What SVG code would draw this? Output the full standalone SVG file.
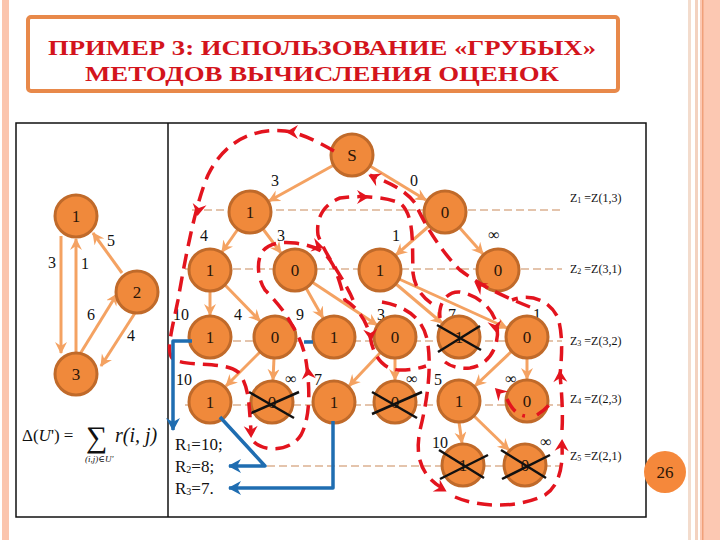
<svg xmlns="http://www.w3.org/2000/svg" width="720" height="540" viewBox="0 0 720 540">
<style>
text{font-family:"Liberation Serif","DejaVu Serif","Times New Roman",serif}
.nd{fill:#f0893b;stroke:#c06a2a;stroke-width:3}
.nt{font-size:17px;fill:#2a1508;text-anchor:middle}
.lb{font-size:16px;fill:#111;text-anchor:middle}
.zl{font-size:12px;fill:#111}
.ed{stroke:#f4a262;stroke-width:3;fill:none;marker-end:url(#oa)}
.lv{stroke:#c98a5a;stroke-width:1.2;stroke-dasharray:8 4;fill:none}
.rd{stroke:#e3141e;stroke-width:3.5;stroke-dasharray:15 8;fill:none}
.bl{stroke:#1f6db1;stroke-width:3.5;fill:none;stroke-linejoin:round}
.x{stroke:#111;stroke-width:2.5}
.ra{fill:#e3141e}
</style>
<defs>
<marker id="oa" markerUnits="userSpaceOnUse" markerWidth="14" markerHeight="14" refX="11" refY="6" orient="auto">
<path d="M0,0 L12,6 L0,12 L4,6 z" fill="#f4a262"/>
</marker>
<marker id="ba" markerUnits="userSpaceOnUse" markerWidth="16" markerHeight="16" refX="12" refY="7" orient="auto">
<path d="M0,0 L13,7 L0,14 L4,7 z" fill="#1f6db1"/>
</marker>
<path id="rh" d="M-9,-7 L3,0 L-9,7 L-5,0 z"/>
</defs>
<!-- background -->
<rect x="0" y="0" width="720" height="540" fill="#ffffff"/>
<rect x="2" y="0" width="7" height="540" fill="#fbc5ae"/>
<rect x="688" y="0" width="3" height="540" fill="#f3dccd"/>
<rect x="695" y="0" width="3" height="540" fill="#f3d2c0"/>
<rect x="700" y="0" width="20" height="540" fill="#fcc8b2"/>
<rect x="702" y="0" width="1.5" height="540" fill="#f0a07a"/>
<!-- title -->
<g id="title">
<rect x="28" y="17" width="590" height="74" rx="3" fill="#ffffff" stroke="#e8894a" stroke-width="4"/>
<text x="322" y="55" font-size="21" font-weight="bold" fill="#d3141c" text-anchor="middle" textLength="548" lengthAdjust="spacingAndGlyphs">ПРИМЕР 3: ИСПОЛЬЗОВАНИЕ «ГРУБЫХ»</text>
<text x="322" y="81" font-size="21" font-weight="bold" fill="#d3141c" text-anchor="middle" textLength="474" lengthAdjust="spacingAndGlyphs">МЕТОДОВ ВЫЧИСЛЕНИЯ ОЦЕНОК</text>
</g>
<!-- table -->
<g id="table" fill="none" stroke="#111" stroke-width="1.5">
<rect x="16" y="123" width="630" height="394"/>
<line x1="168" y1="123" x2="168" y2="517"/>
</g>
<!-- level lines -->
<g id="levels">
<line class="lv" x1="192" y1="210" x2="562" y2="210"/>
<line class="lv" x1="185" y1="269" x2="562" y2="269"/>
<line class="lv" x1="185" y1="341" x2="562" y2="341"/>
<line class="lv" x1="185" y1="405" x2="562" y2="405"/>
<line class="lv" x1="267" y1="466" x2="562" y2="466"/>
<text class="zl" x="570" y="202">Z<tspan font-size="8" dy="1">1</tspan><tspan dy="-1"> =Z(1,3)</tspan></text>
<text class="zl" x="570" y="273">Z<tspan font-size="8" dy="1">2</tspan><tspan dy="-1"> =Z(3,1)</tspan></text>
<text class="zl" x="570" y="345">Z<tspan font-size="8" dy="1">3</tspan><tspan dy="-1"> =Z(3,2)</tspan></text>
<text class="zl" x="570" y="403">Z<tspan font-size="8" dy="1">4</tspan><tspan dy="-1"> =Z(2,3)</tspan></text>
<text class="zl" x="570" y="460">Z<tspan font-size="8" dy="1">5</tspan><tspan dy="-1"> =Z(2,1)</tspan></text>
</g>
<!-- left graph connectors -->
<g id="g-connectors">
<line class="ed" x1="61" y1="236" x2="61" y2="353"/>
<line class="ed" x1="76" y1="353" x2="76" y2="239"/>
<line class="ed" x1="122" y1="273" x2="93" y2="233"/>
<line class="ed" x1="80" y1="354" x2="117" y2="294"/>
<line class="ed" x1="135" y1="313" x2="101" y2="366"/>
<text class="lb" x="52" y="268" font-size="17">3</text>
<text class="lb" x="85" y="269" font-size="17">1</text>
<text class="lb" x="111" y="246" font-size="17">5</text>
<text class="lb" x="91" y="320" font-size="17">6</text>
<text class="lb" x="131" y="341" font-size="17">4</text>
</g>
<g id="g1"><circle class="nd" cx="76" cy="216" r="21"/><text class="nt" x="76" y="222">1</text></g>
<g id="g2"><circle class="nd" cx="137" cy="292" r="21"/><text class="nt" x="137" y="298">2</text></g>
<g id="g3"><circle class="nd" cx="76" cy="374" r="21"/><text class="nt" x="76" y="380">3</text></g>
<!-- formula -->
<g id="formula" fill="#111">
<text x="22" y="441" font-size="17">Δ(<tspan font-style="italic">U</tspan>') =</text>
<text x="86" y="447" font-size="30">∑</text>
<text x="115" y="442" font-size="20" font-style="italic">r(i, j)</text>
<text x="85" y="462" font-size="9" font-style="italic">(i,j)∈U'</text>
</g>
<!-- tree connectors -->
<g id="connectors">
<line class="ed" x1="334" y1="165" x2="269" y2="201"/>
<line class="ed" x1="370" y1="166" x2="426" y2="200"/>
<line class="ed" x1="238" y1="229" x2="222" y2="252"/>
<line class="ed" x1="263" y1="229" x2="281" y2="253"/>
<line class="ed" x1="429" y1="226" x2="396" y2="255"/>
<line class="ed" x1="459" y1="227" x2="483" y2="254"/>
<line class="ed" x1="210" y1="291" x2="210" y2="315"/>
<line class="ed" x1="225" y1="285" x2="260" y2="321"/>
<line class="ed" x1="306" y1="288" x2="323" y2="318"/>
<line class="ed" x1="312" y1="282" x2="377" y2="325"/>
<line class="ed" x1="396" y1="284" x2="442" y2="323"/>
<line class="ed" x1="399" y1="279" x2="507" y2="328"/>
<line class="ed" x1="260" y1="352" x2="226" y2="386"/>
<line class="ed" x1="274" y1="358" x2="273" y2="380"/>
<line class="ed" x1="381" y1="352" x2="349" y2="386"/>
<line class="ed" x1="395" y1="358" x2="395" y2="380"/>
<line class="ed" x1="512" y1="351" x2="475" y2="386"/>
<line class="ed" x1="527" y1="358" x2="527" y2="379"/>
<line class="ed" x1="459" y1="422" x2="462" y2="443"/>
<line class="ed" x1="474" y1="416" x2="509" y2="450"/>
<text class="lb" x="275" y="186">3</text>
<text class="lb" x="414" y="186">0</text>
<text class="lb" x="204" y="241">4</text>
<text class="lb" x="281" y="241">3</text>
<text class="lb" x="396" y="241">1</text>
<text class="lb" x="494" y="240">∞</text>
<text class="lb" x="181" y="320">10</text>
<text class="lb" x="238" y="320">4</text>
<text class="lb" x="300" y="320">9</text>
<text class="lb" x="381" y="320">3</text>
<text class="lb" x="452" y="320">7</text>
<text class="lb" x="537" y="320">1</text>
<text class="lb" x="184" y="385">10</text>
<text class="lb" x="291" y="384">∞</text>
<text class="lb" x="318" y="385">7</text>
<text class="lb" x="412" y="384">∞</text>
<text class="lb" x="438" y="385">5</text>
<text class="lb" x="511" y="384">∞</text>
<text class="lb" x="440" y="448">10</text>
<text class="lb" x="546" y="447">∞</text>
</g>
<!-- tree nodes -->
<g id="nS"><circle class="nd" cx="352" cy="155" r="21"/><text class="nt" x="352" y="161">S</text></g>
<g id="n1a"><circle class="nd" cx="250" cy="212" r="21"/><text class="nt" x="250" y="218">1</text></g>
<g id="n1b"><circle class="nd" cx="445" cy="212" r="21"/><text class="nt" x="445" y="218">0</text></g>
<g id="n2a"><circle class="nd" cx="210" cy="270" r="21"/><text class="nt" x="210" y="276">1</text></g>
<g id="n2b"><circle class="nd" cx="295" cy="270" r="21"/><text class="nt" x="295" y="276">0</text></g>
<g id="n2c"><circle class="nd" cx="380" cy="270" r="21"/><text class="nt" x="380" y="276">1</text></g>
<g id="n2d"><circle class="nd" cx="498" cy="270" r="21"/><text class="nt" x="498" y="276">0</text></g>
<g id="n3a"><circle class="nd" cx="210" cy="337" r="21"/><text class="nt" x="210" y="343">1</text></g>
<g id="n3b"><circle class="nd" cx="275" cy="337" r="21"/><text class="nt" x="275" y="343">0</text></g>
<g id="n3c"><circle class="nd" cx="334" cy="337" r="21"/><text class="nt" x="334" y="343">1</text></g>
<g id="n3d"><circle class="nd" cx="395" cy="337" r="21"/><text class="nt" x="395" y="343">0</text></g>
<g id="n3e"><circle class="nd" cx="459" cy="337" r="21"/><text class="nt" x="459" y="343">1</text><line class="x" x1="437" y1="325" x2="481" y2="350"/><line class="x" x1="438" y1="352" x2="480" y2="326"/></g>
<g id="n3f"><circle class="nd" cx="527" cy="337" r="21"/><text class="nt" x="527" y="343">0</text></g>
<g id="n4a"><circle class="nd" cx="210" cy="402" r="21"/><text class="nt" x="210" y="408">1</text></g>
<g id="n4b"><circle class="nd" cx="272" cy="402" r="21"/><text class="nt" x="272" y="408">0</text><line class="x" x1="249" y1="392" x2="294" y2="418"/><line class="x" x1="249" y1="414" x2="299" y2="392"/></g>
<g id="n4c"><circle class="nd" cx="334" cy="402" r="21"/><text class="nt" x="334" y="408">1</text></g>
<g id="n4d"><circle class="nd" cx="395" cy="402" r="21"/><text class="nt" x="395" y="408">0</text><line class="x" x1="372" y1="392" x2="417" y2="418"/><line class="x" x1="372" y1="414" x2="422" y2="392"/></g>
<g id="n4e"><circle class="nd" cx="459" cy="401" r="21"/><text class="nt" x="459" y="407">1</text></g>
<g id="n4f"><circle class="nd" cx="527" cy="401" r="21"/><text class="nt" x="527" y="407">0</text></g>
<g id="n5a"><circle class="nd" cx="463" cy="465" r="21"/><text class="nt" x="463" y="471">1</text><line class="x" x1="439" y1="450" x2="484" y2="478"/><line class="x" x1="440" y1="479" x2="488" y2="455"/></g>
<g id="n5b"><circle class="nd" cx="525" cy="465" r="21"/><text class="nt" x="525" y="471">0</text><line class="x" x1="501" y1="450" x2="546" y2="478"/><line class="x" x1="502" y1="479" x2="550" y2="455"/></g>
<!-- red traversal -->
<g id="traversal">
<path class="rd" d="M334,151 C315,140 300,133 285,131 C255,128 225,140 208,175 C195,205 185,260 178,300 C172,330 166,350 172,358 C185,368 222,360 238,372 C250,385 249,410 251,430"/>
<path class="rd" d="M254,442 C265,452 290,452 301,435 C310,418 310,392 307,368 C305,350 300,338 292,325 C285,312 275,300 265,290 C258,280 256,262 262,252 C268,244 280,241 295,243 C315,246 325,250 333,265 C340,280 342,292 345,300 C355,306 366,318 370,336 C373,356 383,370 400,370 C412,370 420,368 426,366"/>
<path class="rd" d="M353,300 C345,280 325,255 318,235 C316,220 322,205 340,198 C360,195 385,197 400,203 C415,215 412,245 413,273 C415,290 425,300 437,307"/>
<path class="rd" d="M382,302 C405,306 425,318 428,345 C432,375 425,410 420,430 C415,455 420,475 442,488"/>
<path class="rd" d="M455,497 C480,508 520,508 545,495 C560,485 563,465 562,445"/>
<path class="rd" d="M562,430 C563,415 562,395 560,375 C562,355 563,335 558,318 C550,300 530,293 512,300"/>
<path class="rd" d="M530,307 C500,295 480,285 460,270 C440,250 425,225 415,203 C405,190 390,183 370,175"/>
<path class="rd" d="M440,318 C438,302 448,291 460,292 C476,295 492,306 497,325 C500,345 490,365 470,368 C458,369 450,366 445,362"/>
<path class="rd" d="M507,399 C512,410 518,415 525,416 M537,415 C545,410 550,405 552,400"/>
<use href="#rh" class="ra" transform="translate(289,132) rotate(180)"/>
<use href="#rh" class="ra" transform="translate(198,213) rotate(100)"/>
<use href="#rh" class="ra" transform="translate(251,435) rotate(88)"/>
<use href="#rh" class="ra" transform="translate(308,370) rotate(-95)"/>
<use href="#rh" class="ra" transform="translate(321,247) rotate(15)"/>
<use href="#rh" class="ra" transform="translate(371,338) rotate(85)"/>
<use href="#rh" class="ra" transform="translate(366,197) rotate(0)"/>
<use href="#rh" class="ra" transform="translate(444,490) rotate(30)"/>
<use href="#rh" class="ra" transform="translate(562,442) rotate(-88)"/>
<use href="#rh" class="ra" transform="translate(560,373) rotate(-92)"/>
<use href="#rh" class="ra" transform="translate(371,176) rotate(205)"/>
<use href="#rh" class="ra" transform="translate(477,284) rotate(215)"/>
<use href="#rh" class="ra" transform="translate(497,390) rotate(225)"/>
<use href="#rh" class="ra" transform="translate(496,330) rotate(80)"/>
</g>
<!-- blue -->
<g id="blue">
<polyline class="bl" points="192,341 173,341 173,430" marker-end="url(#ba)"/>
<polyline class="bl" points="220,417 265,466 229,466" marker-end="url(#ba)"/>
<polyline class="bl" points="333,421 333,488 229,488" marker-end="url(#ba)"/>
<line class="bl" x1="304" y1="342" x2="313" y2="342" stroke-width="2.5"/>
</g>
<g id="rlabels" font-size="17" fill="#111">
<text x="175" y="450">R<tspan font-size="10" dy="1">1</tspan><tspan dy="-1">=10;</tspan></text>
<text x="175" y="472">R<tspan font-size="10" dy="1">2</tspan><tspan dy="-1">=8;</tspan></text>
<text x="175" y="494">R<tspan font-size="10" dy="1">3</tspan><tspan dy="-1">=7.</tspan></text>
</g>
<g id="page"><circle cx="665" cy="472" r="21" fill="#f5883b"/><text x="665" y="478" font-size="17" fill="#2a1508" text-anchor="middle">26</text></g>
</svg>
